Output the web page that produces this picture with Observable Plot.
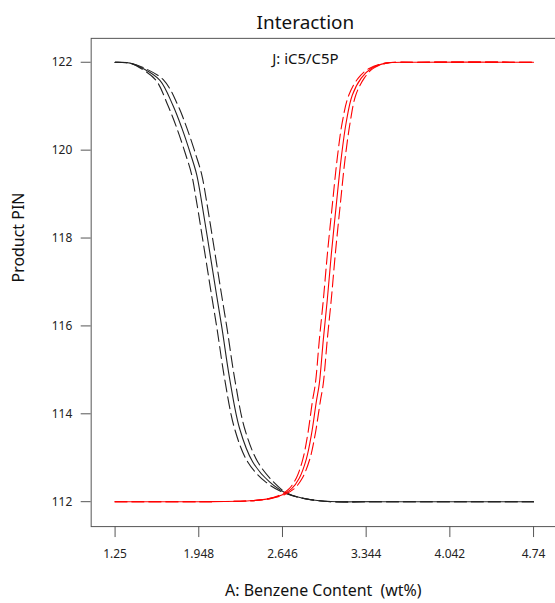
<!DOCTYPE html>
<html>
<head>
<meta charset="utf-8">
<script src="https://cdn.jsdelivr.net/npm/d3@7"></script>
<script src="https://cdn.jsdelivr.net/npm/@observablehq/plot@0.6"></script>
<style>
  html, body { margin: 0; padding: 0; background: #fff; overflow: hidden; }
  #chart svg { display: block; font-family: "Noto Sans", sans-serif; }
</style>
</head>
<body>
<div id="chart"></div>
<script>
// ---- data ----
const title = "Interaction";
const factorLabel = "J: iC5/C5P";
const xLabel = "A: Benzene Content  (wt%)";
const yLabel = "Product PIN";
const xTicks = [1.25, 1.948, 2.646, 3.344, 4.042, 4.74];
const yTicks = [112, 114, 116, 118, 120, 122];

// black series (low level): prediction and confidence bands
const blackY     = [122.0, 121.98, 121.86, 121.59, 121.02, 120.50, 119.89, 119.44, 118.87, 118.03, 116.76, 115.92, 114.79, 113.66, 112.91, 112.45, 112.18, 112.02, 112.0, 112.0];
const blackMidX  = [1.25, 1.375, 1.483, 1.624, 1.732, 1.807, 1.882, 1.931, 1.969, 2.019, 2.093, 2.143, 2.206, 2.289, 2.397, 2.538, 2.688, 2.953, 3.452, 4.74];
const blackHiX   = [1.25, 1.375, 1.500, 1.657, 1.774, 1.849, 1.924, 1.973, 2.011, 2.061, 2.135, 2.185, 2.248, 2.331, 2.439, 2.571, 2.696, 2.953, 3.452, 4.74];
const blackLoX   = [1.25, 1.375, 1.466, 1.591, 1.690, 1.765, 1.840, 1.889, 1.927, 1.977, 2.051, 2.101, 2.164, 2.247, 2.355, 2.505, 2.680, 2.953, 3.452, 4.74];

// red series (high level): prediction and confidence bands
const redY    = [112.0, 112.0, 112.02, 112.07, 112.16, 112.29, 112.54, 112.97, 113.52, 114.29, 114.68, 115.70, 116.60, 117.62, 118.76, 119.82, 120.64, 121.25, 121.64, 121.86, 121.98, 122.0, 122.0];
const redMidX = [1.25, 1.956, 2.372, 2.538, 2.646, 2.721, 2.787, 2.845, 2.887, 2.929, 2.953, 2.987, 3.020, 3.053, 3.095, 3.136, 3.178, 3.228, 3.303, 3.386, 3.510, 3.784, 4.74];
const redHiX  = [1.25, 1.956, 2.372, 2.530, 2.630, 2.700, 2.762, 2.816, 2.856, 2.896, 2.920, 2.954, 2.987, 3.020, 3.062, 3.103, 3.145, 3.199, 3.278, 3.369, 3.502, 3.784, 4.74];
const redLoX  = [1.25, 1.956, 2.372, 2.546, 2.662, 2.742, 2.812, 2.874, 2.918, 2.962, 2.986, 3.020, 3.053, 3.086, 3.128, 3.169, 3.211, 3.257, 3.328, 3.403, 3.518, 3.784, 4.74];

// ---- build tables ----
const pts = (xs, ys) => xs.map((x, i) => ({x, y: ys[i]}));
const series = [
  {data: pts(blackHiX, blackY), color: "#222", dash: "12,5"},
  {data: pts(blackLoX, blackY), color: "#222", dash: "12,5"},
  {data: pts(blackMidX, blackY), color: "#222", dash: null},
  {data: pts(redHiX, redY), color: "#ff0000", dash: "12,5"},
  {data: pts(redLoX, redY), color: "#ff0000", dash: "12,5"},
  {data: pts(redMidX, redY), color: "#ff0000", dash: null}
];

const chart = Plot.plot({
  width: 557,
  height: 603,
  marginLeft: 91,
  marginRight: 0,
  marginTop: 38,
  marginBottom: 75,
  style: {fontFamily: "'Noto Sans', sans-serif", fontSize: "12px", color: "#222", background: "#fff"},
  x: {domain: [1.0506, 4.923]},
  y: {domain: [111.433, 122.544]},
  marks: [
    Plot.frame({stroke: "#555", strokeWidth: 1}),
    Plot.axisX({ticks: xTicks, tickFormat: d => String(d), tickSize: 11, tickPadding: 12, label: null, fontSize: 12, stroke: "#555"}),
    Plot.axisY({ticks: yTicks, tickFormat: d => String(d), tickSize: 10, tickPadding: 9, label: null, fontSize: 12, stroke: "#555"}),
    ...series.map(s => Plot.line(s.data, {
      x: "x", y: "y", curve: "catmull-rom",
      stroke: s.color, strokeWidth: 1.1,
      strokeDasharray: s.dash == null ? undefined : s.dash
    })),
    Plot.text([title], {text: d => d, frameAnchor: "top", dx: -18, dy: -23, fontSize: 19, fill: "#111"}),
    Plot.text([factorLabel], {text: d => d, frameAnchor: "top", dx: -18, dy: 15, fontSize: 15, fill: "#111"}),
    Plot.text([xLabel], {text: d => d, frameAnchor: "bottom", dx: 0, dy: 70, fontSize: 16, fill: "#111"}),
    Plot.text([yLabel], {text: d => d, frameAnchor: "left", dx: -73, rotate: -90, fontSize: 16, fill: "#111"})
  ]
});
document.getElementById("chart").appendChild(chart);
</script>
</body>
</html>
